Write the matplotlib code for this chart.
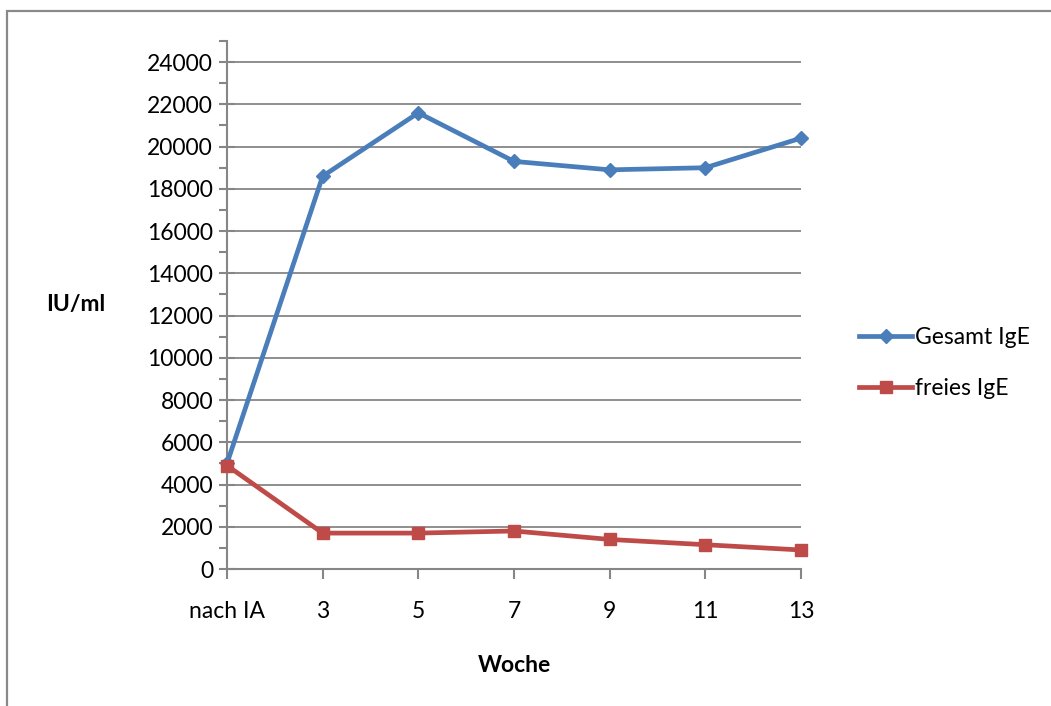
import matplotlib
matplotlib.use("Agg")
import matplotlib.pyplot as plt
from matplotlib.patches import Rectangle
from matplotlib.ticker import MultipleLocator

weeks = ["nach IA", "3", "5", "7", "9", "11", "13"]
gesamt_ige = [5000, 18600, 21600, 19300, 18900, 19000, 20400]
freies_ige = [4900, 1700, 1700, 1800, 1400, 1150, 900]

plt.rcParams["font.family"] = ["Lato", "DejaVu Sans"]

fig = plt.figure(figsize=(10.51, 7.06), dpi=100)
fig.patch.set_facecolor("white")

# outer chart-area frame
fig.patches.append(Rectangle((7 / 1051, -0.2), 1.2, 1 - 11 / 706 + 0.2,
                             transform=fig.transFigure, fill=False,
                             edgecolor="#898989", linewidth=1.6))

ax = fig.add_axes([227 / 1051, 1 - 569 / 706, (801 - 227) / 1051, (569 - 41) / 706])

x = list(range(len(weeks)))
grid_c = "#868686"

ax.set_xlim(0, len(weeks) - 1)
ax.set_ylim(0, 25000)
ax.yaxis.set_major_locator(MultipleLocator(2000))
ax.yaxis.set_minor_locator(MultipleLocator(1000))
ax.set_yticks(list(range(0, 24001, 2000)))
ax.set_xticks(x)
ax.set_xticklabels(weeks)

for yv in range(2000, 24001, 2000):
    ax.axhline(yv, color=grid_c, linewidth=1.3, zorder=1)

ax.plot(x, gesamt_ige, color="#4A7EBB", linewidth=3.4, marker="D",
        markersize=7.5, label="Gesamt IgE", zorder=3, clip_on=False)
ax.plot(x, freies_ige, color="#BE4B48", linewidth=3.4, marker="s",
        markersize=9, label="freies IgE", zorder=4, clip_on=False)

for side in ["top", "right"]:
    ax.spines[side].set_visible(False)
for side in ["left", "bottom"]:
    ax.spines[side].set_color(grid_c)
    ax.spines[side].set_linewidth(1.5)

ax.tick_params(axis="y", which="major", direction="inout", length=12,
               width=1.5, color=grid_c, labelsize=16.5, pad=4)
ax.tick_params(axis="y", which="minor", direction="out", length=6,
               width=1.5, color=grid_c)
ax.tick_params(axis="x", which="major", direction="out", length=7,
               width=1.5, color=grid_c, labelsize=16.5, pad=16)

ax.set_xlabel("Woche", fontsize=16.5, fontweight="bold", labelpad=24)
ax.set_ylabel("IU/ml", fontsize=16.5, fontweight="bold", rotation=0,
              labelpad=0, va="center", ha="center")
ax.yaxis.set_label_coords(-0.263, 0.5)

fig.legend(loc="center left", bbox_to_anchor=(850 / 1051, 1 - 363 / 706),
           frameon=False, fontsize=16.5, handlelength=2.3, handletextpad=0.15,
           labelspacing=1.3, borderaxespad=0)

fig.savefig("out.png", dpi=100, facecolor="white")
